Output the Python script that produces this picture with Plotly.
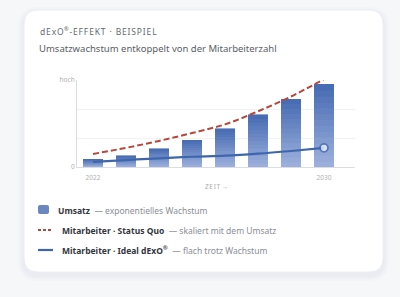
import plotly.graph_objects as go

# ---- data ----
year_labels = ["2022", "2030"]
umsatz = [9, 13, 21, 31, 44, 60, 78, 95]
status_quo = [15, 22, 30, 39, 49, 64, 81, 101]
ideal_dexo = [6, 8, 10, 11.8, 13, 15.3, 18.4, 22]
y_labels = ["0", "hoch"]

x = list(range(len(umsatz)))

W, H = 400, 297
L, R, T, B = 77, 45, 80, 130
PW, PH = W - L - R, H - T - B


def px(v):
    return (v - L) / PW


def py(v):
    return (H - B - v) / PH


fig = go.Figure()

# gradient bars via stacked slices
N = 14
top_c = (70, 106, 178)
bot_c = (158, 178, 222)
for k in range(N):
    t = (k + 0.5) / N
    c = tuple(int(round(bot_c[i] + (top_c[i] - bot_c[i]) * t)) for i in range(3))
    col = "rgb(%d,%d,%d)" % c
    fig.add_trace(go.Bar(
        x=x, y=[v / N for v in umsatz], width=0.6,
        marker=dict(color=col, line=dict(color=col, width=0.6)),
        showlegend=False, hoverinfo="skip"))

fig.add_trace(go.Scatter(
    x=x, y=status_quo, mode="lines+markers",
    line=dict(color="#b5473c", width=2, dash="6px,3px", shape="spline"),
    marker=dict(size=[0] * (len(x) - 1) + [7], color="#b5473c", line=dict(width=0)),
    cliponaxis=False, showlegend=False))
fig.add_trace(go.Scatter(
    x=x, y=ideal_dexo, mode="lines+markers", line=dict(color="#3d66ad", width=2.2, shape="spline"),
    marker=dict(size=[0] * (len(x) - 1) + [8], color="white",
                line=dict(width=[0] * (len(x) - 1) + [1.8], color="#3d66ad")),
    cliponaxis=False, showlegend=False))

FONT = "Noto Sans"


def rrect(x0, y0, x1, y1, r):
    rx, ry = r / PW, r / PH
    X0, X1 = px(x0), px(x1)
    Y0, Y1 = py(y1), py(y0)
    return (f"M {X0+rx},{Y1} L {X1-rx},{Y1} Q {X1},{Y1} {X1},{Y1-ry} "
            f"L {X1},{Y0+ry} Q {X1},{Y0} {X1-rx},{Y0} L {X0+rx},{Y0} "
            f"Q {X0},{Y0} {X0},{Y0+ry} L {X0},{Y1-ry} Q {X0},{Y1} {X0+rx},{Y1} Z")


shapes = []
for i, a in enumerate([0.025, 0.03, 0.035]):
    g = 6 - 2 * i
    shapes.append(dict(type="path", xref="paper", yref="paper", layer="below",
                       path=rrect(24 - g, 10 - g + 3, 383 + g, 272 + g + 3, 14 + g),
                       fillcolor=f"rgba(120,130,160,{a})", line=dict(width=0)))
shapes.append(dict(type="path", xref="paper", yref="paper", layer="below",
                   path=rrect(24, 10, 383, 272, 14), fillcolor="white",
                   line=dict(color="#eceef2", width=1)))

# legend symbols
shapes.append(dict(type="path", xref="paper", yref="paper",
                   path=rrect(38, 205, 49, 214, 2), fillcolor="#6a87c4", line=dict(width=0)))
shapes.append(dict(type="line", xref="paper", yref="paper", x0=px(38), x1=px(53), y0=py(230), y1=py(230),
                   line=dict(color="#b5473c", width=2, dash="3px,2px")))
shapes.append(dict(type="line", xref="paper", yref="paper", x0=px(38), x1=px(53), y0=py(250), y1=py(250),
                   line=dict(color="#3d66ad", width=2.2)))

hs = "\u200a"
title_txt = hs.join("dExO") + "<sup>®</sup>" + hs + hs.join("-EFFEKT · BEISPIEL")

ann = [
    dict(text=title_txt, x=px(38), y=py(31), xanchor="left", yanchor="middle",
         font=dict(size=8.5, color="#666a72", family=FONT)),
    dict(text="Umsatzwachstum entkoppelt von der Mitarbeiterzahl", x=px(37), y=py(48),
         xanchor="left", yanchor="middle", font=dict(size=9.5, color="#5a5e66", family=FONT)),
    dict(text=hs.join("ZEIT") + " →", x=0.5, y=py(186), xanchor="center", yanchor="middle",
         font=dict(size=6.5, color="#aaaaaa", family=FONT)),
    dict(text="<b>Umsatz</b>  <span style='color:#8a8e96'>— exponentielles Wachstum</span>",
         x=px(56), y=py(210), xanchor="left", yanchor="middle", font=dict(size=8.5, color="#33363c", family=FONT)),
    dict(text="<b>Mitarbeiter · Status Quo</b>  <span style='color:#8a8e96'>— skaliert mit dem Umsatz</span>",
         x=px(60), y=py(230), xanchor="left", yanchor="middle", font=dict(size=8.5, color="#33363c", family=FONT)),
    dict(text="<b>Mitarbeiter · Ideal dExO<sup>®</sup></b>  <span style='color:#8a8e96'>— flach trotz Wachstum</span>",
         x=px(60), y=py(250), xanchor="left", yanchor="middle", font=dict(size=8.5, color="#33363c", family=FONT)),
]
for a in ann:
    a.update(xref="paper", yref="paper", showarrow=False)

fig.update_layout(
    width=W, height=H, margin=dict(l=L, r=R, t=T, b=B),
    paper_bgcolor="#f6f7f9", plot_bgcolor="rgba(0,0,0,0)",
    barmode="stack", bargap=0.4,
    shapes=shapes, annotations=ann, showlegend=False,
    font=dict(family=FONT),
    xaxis=dict(range=[-0.485, 7.94], tickvals=[x[0], x[-1]], ticktext=year_labels, showgrid=False,
               showline=True, linecolor="#dcdde0", linewidth=1, ticks="", zeroline=False,
               ticklabelstandoff=4, tickfont=dict(size=6.5, color="#b0b0b0")),
    yaxis=dict(range=[0, 100], tickvals=[0, 100], ticktext=y_labels,
               showgrid=True, gridcolor="#f1f2f4", gridwidth=1, showline=True, linecolor="#dcdde0",
               minor=dict(tickvals=[33.33, 66.67], showgrid=True, gridcolor="#f1f2f4", ticks=""),
               linewidth=1, ticks="", zeroline=False, tickfont=dict(size=6.5, color="#b0b0b0")),
)

fig.write_html("out.html")
